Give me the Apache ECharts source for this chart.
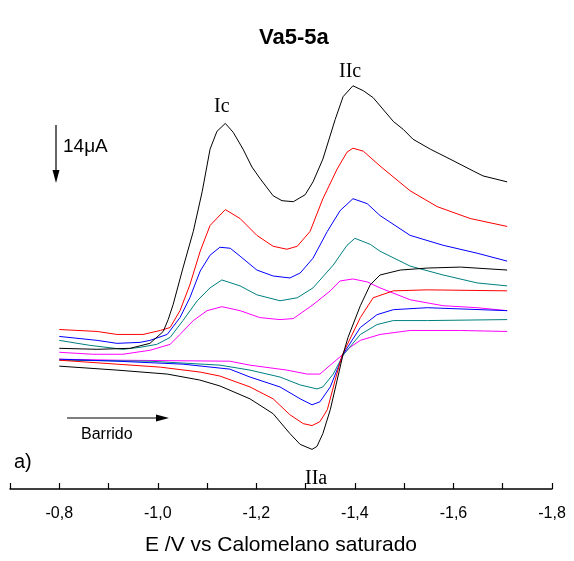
<!DOCTYPE html>
<html>
<head>
<meta charset="utf-8">
<script src="https://cdn.jsdelivr.net/npm/echarts@6/dist/echarts.min.js"></script>
<style>html,body{margin:0;padding:0;background:#fff}#c{width:574px;height:561px}</style>
</head>
<body>
<div id="c"></div>
<script>
// E (V vs SCE), I (µA, arbitrary offset; cathodic up)
var xTicks = [-0.8, -1.0, -1.2, -1.4, -1.6, -1.8];
var blackFwd = [[-0.80,35.5],[-0.877,35.25],[-0.944,35.5],[-0.984,36.75],[-1.011,39.75],[-1.021,42.75],[-1.031,46.5],[-1.051,55.75],[-1.072,65],[-1.090,75],[-1.106,85.75],[-1.120,90.25],[-1.137,92.25],[-1.153,90],[-1.173,85.75],[-1.191,81.25],[-1.208,78.25],[-1.234,74],[-1.252,72.75],[-1.275,72.5],[-1.299,74.25],[-1.315,77.5],[-1.335,83.25],[-1.360,93.25],[-1.376,99],[-1.396,101.75],[-1.417,100.5],[-1.437,98.75],[-1.478,92.75],[-1.498,90.75],[-1.518,88.25],[-1.553,85.75],[-1.593,83.25],[-1.640,80.25],[-1.660,79],[-1.709,77.5]];
var blackRev = [[-1.709,55.25],[-1.614,56],[-1.547,55.75],[-1.492,55.25],[-1.451,54],[-1.431,51.5],[-1.411,46.25],[-1.386,38.25],[-1.376,34],[-1.364,27.5],[-1.350,20],[-1.335,14],[-1.323,10.75],[-1.313,10],[-1.289,11.25],[-1.268,14],[-1.234,19],[-1.187,22.75],[-1.126,26],[-1.085,27.5],[-1.019,29],[-0.917,30],[-0.80,31]];
var redFwd = [[-0.80,40.25],[-0.877,39.75],[-0.917,39],[-0.970,39],[-1.005,40],[-1.025,40.75],[-1.045,45],[-1.065,51.5],[-1.086,60],[-1.106,66.5],[-1.137,70.5],[-1.167,68.25],[-1.201,64],[-1.234,61.25],[-1.262,60.5],[-1.283,61.25],[-1.309,65],[-1.335,73.25],[-1.364,80.75],[-1.384,85],[-1.396,86],[-1.417,85.25],[-1.451,81.5],[-1.512,75.25],[-1.567,71.25],[-1.634,68.25],[-1.709,66.25]];
var redRev = [[-1.709,50],[-1.547,50.25],[-1.478,50],[-1.437,48.25],[-1.411,43.25],[-1.374,33.75],[-1.360,27.5],[-1.344,20],[-1.329,17],[-1.313,16],[-1.295,16.5],[-1.268,18.75],[-1.234,22.75],[-1.187,25.75],[-1.126,28.5],[-1.086,29.5],[-1.005,30.75],[-0.917,31.5],[-0.80,32.5]];
var blueFwd = [[-0.80,38.5],[-0.877,37.5],[-0.917,36.75],[-0.964,37],[-0.984,37.5],[-1.019,39],[-1.045,43.25],[-1.065,48.25],[-1.086,55],[-1.106,59],[-1.126,61],[-1.147,60.75],[-1.167,58.75],[-1.201,55.25],[-1.234,53.75],[-1.268,53.25],[-1.289,54.5],[-1.315,58.25],[-1.344,65],[-1.370,70.25],[-1.396,73.25],[-1.425,72],[-1.451,69],[-1.512,64],[-1.579,61.5],[-1.648,59.5],[-1.709,57.5]];
var blueRev = [[-1.709,45],[-1.547,45.75],[-1.478,45.25],[-1.445,44],[-1.411,40.75],[-1.376,34],[-1.366,30.75],[-1.350,25.75],[-1.329,22],[-1.313,21.25],[-1.289,22.75],[-1.248,25.75],[-1.187,28.25],[-1.146,30.25],[-1.051,31.5],[-0.917,32.25],[-0.80,32.75]];
var tealFwd = [[-0.80,37.5],[-0.862,36.25],[-0.929,35.25],[-0.964,35.75],[-0.998,36.5],[-1.025,38.25],[-1.051,42.5],[-1.080,47.5],[-1.106,50.75],[-1.130,52.75],[-1.167,51.25],[-1.201,49],[-1.248,47.5],[-1.283,48.25],[-1.315,50.75],[-1.356,56.5],[-1.384,61.5],[-1.400,63.25],[-1.431,61.75],[-1.451,60],[-1.512,56.25],[-1.579,54],[-1.648,52],[-1.709,51.25]];
var tealRev = [[-1.709,42.75],[-1.547,42.5],[-1.478,42.5],[-1.445,41.5],[-1.411,39],[-1.376,33.75],[-1.356,29],[-1.335,25.75],[-1.323,25.25],[-1.289,26.25],[-1.248,28.25],[-1.187,30],[-1.126,31.25],[-0.984,32.25],[-0.80,32.5]];
var magFwd = [[-0.80,34.5],[-0.868,34],[-0.929,34],[-0.984,35],[-1.025,36.5],[-1.045,39],[-1.072,42.5],[-1.100,45],[-1.130,46],[-1.167,45],[-1.207,43.25],[-1.248,42.75],[-1.275,43],[-1.315,46.5],[-1.350,50],[-1.370,52.5],[-1.396,53],[-1.425,52.25],[-1.451,50.75],[-1.512,47.75],[-1.579,46.25],[-1.648,45.75],[-1.709,45]];
var magRev = [[-1.709,39.75],[-1.614,40],[-1.512,40],[-1.451,39],[-1.431,38.25],[-1.411,37.5],[-1.390,35.75],[-1.376,34],[-1.350,31.25],[-1.329,29],[-1.303,29],[-1.262,30],[-1.187,31.25],[-1.146,32.25],[-0.917,32.5],[-0.80,32.75]];

var FONT = 'Arial, "Liberation Sans", sans-serif';
var SERIF = '"Times New Roman", "Liberation Serif", serif';

function ln(data, color) {
  return {type:'line', data:data, showSymbol:false, smooth:false, silent:true,
    lineStyle:{color:color, width:1}, itemStyle:{color:color}};
}

var chart = echarts.init(document.getElementById('c'));
chart.setOption({
  animation:false,
  backgroundColor:'#fff',
  title:{text:'Va5-5a', left:254, top:22, textStyle:{fontFamily:FONT, fontSize:22, fontWeight:'bold', color:'#000'}},
  grid:{left:10, right:22, top:60, bottom:68},
  xAxis:{type:'value', inverse:true, min:-1.8, max:-0.7, interval:0.1,
    axisLine:{lineStyle:{color:'#000', width:1.5}},
    axisTick:{inside:true, length:6, lineStyle:{color:'#000', width:1.2}},
    splitLine:{show:false},
    axisLabel:{margin:17, fontFamily:FONT, fontSize:16, color:'#000',
      formatter:function(v){var k=Math.round(-v*10); if(k%2!==0) return ''; return (-k/10).toFixed(1).replace('.', ',');}},
    name:'E /V vs Calomelano saturado', nameLocation:'middle', nameGap:46,
    nameTextStyle:{fontFamily:FONT, fontSize:21, color:'#000'}},
  yAxis:{type:'value', min:0, max:108.25, show:false},
  series:[
    ln(magFwd,'#ff00ff'), ln(magRev,'#ff00ff'),
    ln(tealFwd,'#008080'), ln(tealRev,'#008080'),
    ln(blueFwd,'#0000ff'), ln(blueRev,'#0000ff'),
    ln(redFwd,'#ff0000'), ln(redRev,'#ff0000'),
    ln(blackFwd,'#000000'), ln(blackRev,'#000000')
  ],
  graphic:[
    {type:'line', shape:{x1:56, y1:125, x2:56, y2:174}, style:{stroke:'#000', lineWidth:1.2}},
    {type:'polygon', shape:{points:[[52.5,170],[59.5,170],[56,183]]}, style:{fill:'#000'}},
    {type:'text', left:63, top:137, style:{text:'14\u03bcA', fontFamily:FONT, fontSize:19, fill:'#000'}},
    {type:'line', shape:{x1:67, y1:418, x2:160, y2:418}, style:{stroke:'#000', lineWidth:1.2}},
    {type:'polygon', shape:{points:[[156,414.5],[156,421.5],[169,418]]}, style:{fill:'#000'}},
    {type:'text', left:81, top:427, style:{text:'Barrido', fontFamily:FONT, fontSize:16, fill:'#000'}},
    {type:'text', left:14, top:452, style:{text:'a)', fontFamily:FONT, fontSize:20, fill:'#000'}},
    {type:'text', left:214, top:97, style:{text:'Ic', fontFamily:SERIF, fontSize:20, fill:'#000'}},
    {type:'text', left:339, top:62, style:{text:'IIc', fontFamily:SERIF, fontSize:20, fill:'#000'}},
    {type:'text', left:305, top:469, style:{text:'IIa', fontFamily:SERIF, fontSize:20, fill:'#000'}}
  ]
});
</script>
</body>
</html>
